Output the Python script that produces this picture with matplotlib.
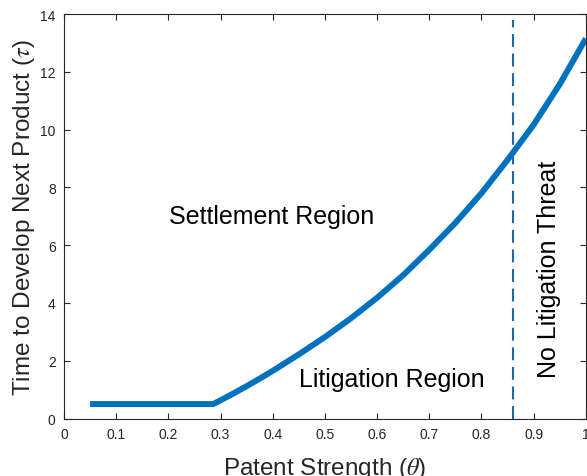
import numpy as np
import matplotlib
matplotlib.use("Agg")
import matplotlib.pyplot as plt

plt.rcParams['font.family'] = ['Liberation Sans', 'DejaVu Sans']
plt.rcParams['mathtext.fontset'] = 'stix'

# curve: patent strength theta vs time tau
theta = [0.05, 0.286, 0.30, 0.325, 0.35, 0.375, 0.40, 0.45, 0.50, 0.55, 0.60, 0.65,
         0.70, 0.75, 0.80, 0.85, 0.90, 0.95, 1.00]
tau = [0.5, 0.5, 0.63, 0.87, 1.12, 1.38, 1.65, 2.22, 2.82, 3.47, 4.18, 4.96,
       5.84, 6.77, 7.8, 8.95, 10.17, 11.57, 13.15]

threshold = 0.86
threshold_top = 13.8

x_ticks = [0, 0.1, 0.2, 0.3, 0.4, 0.5, 0.6, 0.7, 0.8, 0.9, 1]
x_ticklabels = ['0', '0.1', '0.2', '0.3', '0.4', '0.5', '0.6', '0.7', '0.8', '0.9', '1']
y_ticks = [0, 2, 4, 6, 8, 10, 12, 14]

fig = plt.figure(figsize=(5.87, 4.77), dpi=100)
ax = fig.add_axes([0.109, 0.1205, 0.889, 0.848])

ax.plot(theta, tau, color='#0072BD', lw=4.3, solid_capstyle='butt',
        solid_joinstyle='round')
ax.plot([threshold, threshold], [0, threshold_top], color='#1f66ae', lw=1.5,
        dashes=(6.2, 3.2))

ax.text(0.398, 7.0, 'Settlement Region', fontsize=18, ha='center', va='center')
ax.text(0.628, 1.38, 'Litigation Region', fontsize=18, ha='center', va='center')
ax.text(0.929, 5.2, 'No Litigation Threat', fontsize=18, ha='center', va='center',
        rotation=90)

ax.set_xlim(0, 1)
ax.set_ylim(0, 14)
ax.set_xticks(x_ticks)
ax.set_xticklabels(x_ticklabels)
ax.set_yticks(y_ticks)
ax.tick_params(direction='in', top=True, right=True, length=4, width=0.8,
               labelsize=10, labelcolor='#262626', color='#262626', pad=6)
for s in ax.spines.values():
    s.set_color('#262626')
    s.set_linewidth(0.8)

ax.set_xlabel(r'Patent Strength ($\theta$)', fontsize=17.5, color='#262626', labelpad=10)
ax.set_ylabel(r'Time to Develop Next Product ($\tau$)', fontsize=17.5, color='#262626',
              labelpad=2)

fig.savefig('out.png', dpi=100)
